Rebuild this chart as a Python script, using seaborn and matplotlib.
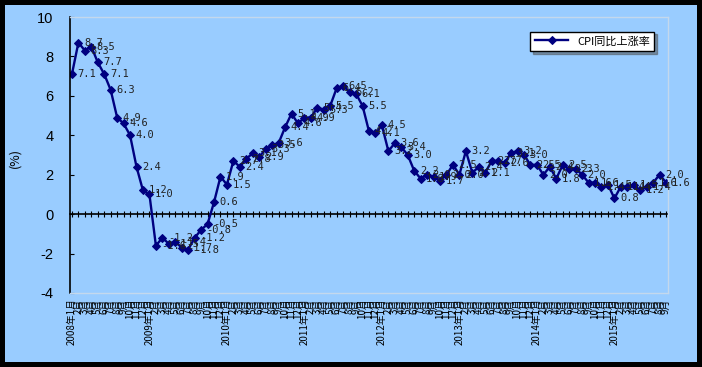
import numpy as np
import pandas as pd
import matplotlib
matplotlib.use("Agg")
import matplotlib.pyplot as plt
import seaborn as sns

# CPI year-on-year growth, monthly, 2008-01 .. 2015-09
years = [2008, 2009, 2010, 2011, 2012, 2013, 2014, 2015]
cpi_2008 = [7.1, 8.7, 8.3, 8.5, 7.7, 7.1, 6.3, 4.9, 4.6, 4.0, 2.4, 1.2]
cpi_2009 = [1.0, -1.6, -1.2, -1.5, -1.4, -1.7, -1.8, -1.2, -0.8, -0.5, 0.6, 1.9]
cpi_2010 = [1.5, 2.7, 2.4, 2.8, 3.1, 2.9, 3.3, 3.5, 3.6, 4.4, 5.1, 4.6]
cpi_2011 = [4.9, 4.9, 5.4, 5.3, 5.5, 6.4, 6.5, 6.2, 6.1, 5.5, 4.2, 4.1]
cpi_2012 = [4.5, 3.2, 3.6, 3.4, 3.0, 2.2, 1.8, 2.0, 1.9, 1.7, 2.0, 2.5]
cpi_2013 = [2.0, 3.2, 2.1, 2.4, 2.1, 2.7, 2.7, 2.6, 3.1, 3.2, 3.0, 2.5]
cpi_2014 = [2.5, 2.0, 2.4, 1.8, 2.5, 2.3, 2.3, 2.0, 1.6, 1.6, 1.4, 1.5]
cpi_2015 = [0.8, 1.4, 1.4, 1.5, 1.2, 1.4, 1.6, 2.0, 1.6]
series_name = "CPI同比上涨率"

values = cpi_2008 + cpi_2009 + cpi_2010 + cpi_2011 + cpi_2012 + cpi_2013 + cpi_2014 + cpi_2015
labels = []
for y, vals in zip(years, [cpi_2008, cpi_2009, cpi_2010, cpi_2011, cpi_2012, cpi_2013, cpi_2014, cpi_2015]):
    for m in range(1, len(vals) + 1):
        labels.append(f"{y}年{m}月" if m == 1 else f"{m}月")

df = pd.DataFrame({"idx": np.arange(len(values)), "cpi": values, "label": labels})

bg = "#99CCFF"
navy = "#000080"
plt.rcParams['font.family'] = ['Noto Sans CJK SC', 'DejaVu Sans']

fig = plt.figure(figsize=(7.02, 3.67), dpi=100, facecolor=bg)
fig.patch.set_edgecolor("black")
fig.patch.set_linewidth(7.2)
ax = fig.add_axes([70 / 702, 1 - 293 / 367, 598 / 702, 276 / 367])
ax.set_facecolor(bg)

sns.lineplot(data=df, x="idx", y="cpi", ax=ax, color=navy, linewidth=1.7,
             marker="D", markersize=4.5, markeredgecolor=navy, label=series_name)

for i, v in enumerate(values):
    ax.annotate(f"{v:.1f}", (i, v), xytext=(4, 0), textcoords="offset points",
                ha="left", va="center", fontsize=7.5, color="#222222",
                family="DejaVu Sans Mono")

ax.set_xlim(-0.3, len(values) - 0.7)
ax.set_ylim(-4, 10)
ax.set_yticks(range(-4, 11, 2))
ax.set_yticklabels([str(t) for t in range(-4, 11, 2)], family="Liberation Sans", fontsize=10.5)
ax.tick_params(axis="y", direction="in", length=3, pad=12, color="black")

ax.set_xticks(df["idx"])
ax.set_xticklabels(df["label"], rotation=90, fontsize=7, va="top", ha="center")
ax.tick_params(axis="x", length=0, pad=4)
ax.set_xlabel("")
ax.set_ylabel("")

for s in ["top", "right", "bottom"]:
    ax.spines[s].set_color("#c4d8ec")
    ax.spines[s].set_linewidth(1)
ax.spines["left"].set_color("black")
ax.spines["left"].set_linewidth(1.2)

# category axis crossing at zero
sec = ax.secondary_xaxis(4 / 14)
sec.set_xticks(df["idx"])
sec.set_xticklabels([])
sec.tick_params(direction="inout", length=4, color="black", width=0.8)
sec.spines["bottom"].set_color("black")
sec.spines["bottom"].set_linewidth(1.2)

fig.text(15 / 702, 1 - 158 / 367, "(%)", rotation=90, fontsize=9, ha="center", va="center")

leg = ax.legend(loc="upper right", bbox_to_anchor=(660 / 702, 1 - 26 / 367),
                bbox_transform=fig.transFigure, fancybox=False, shadow=True,
                framealpha=1, edgecolor="black", fontsize=8, handlelength=3,
                borderpad=0.4)
leg.get_frame().set_linewidth(1)

fig.savefig("out.png", dpi=100, facecolor=fig.get_facecolor(), edgecolor="black")
